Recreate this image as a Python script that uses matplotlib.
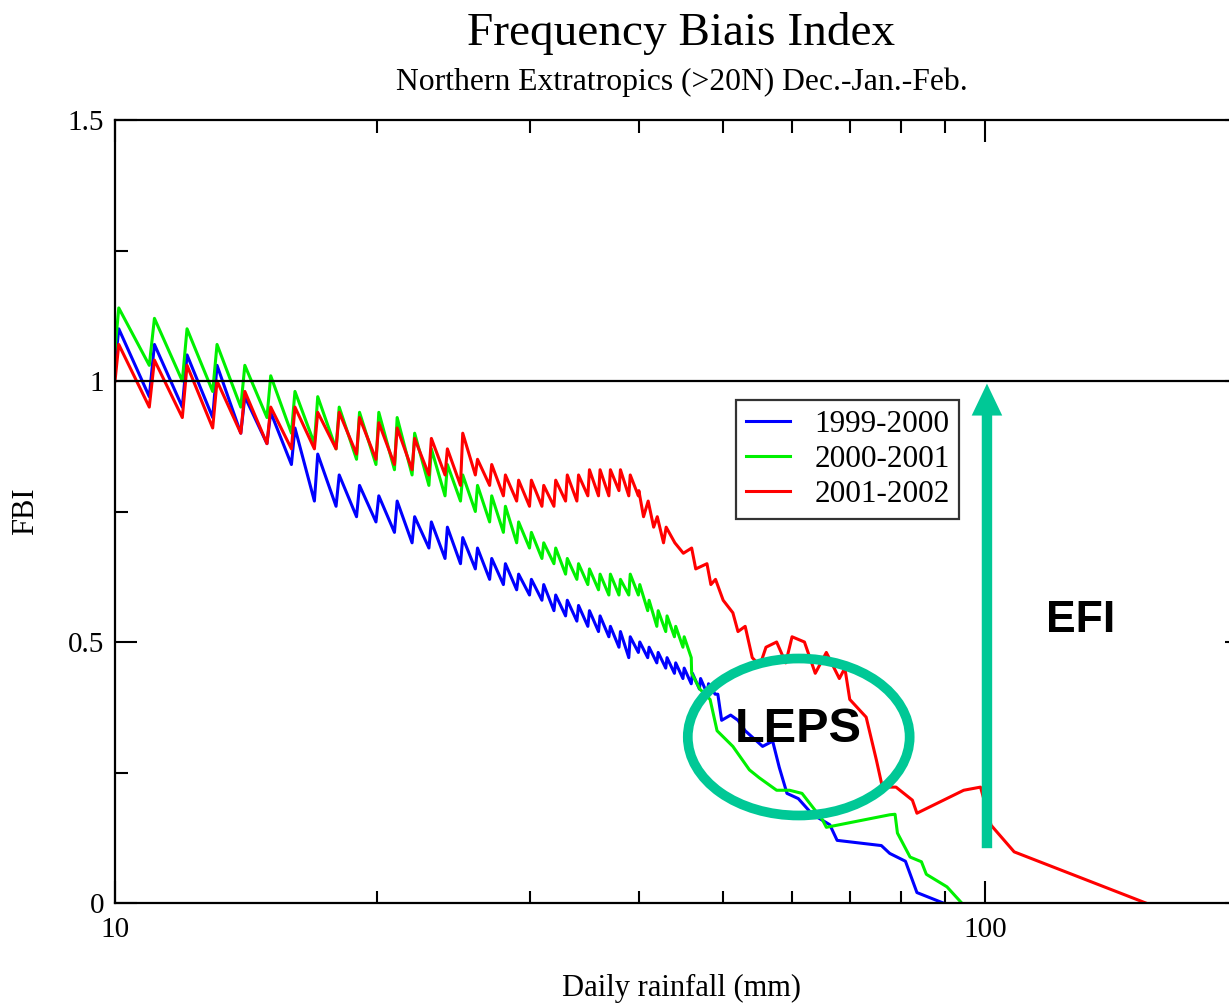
import numpy as np
import matplotlib
matplotlib.use("Agg")
import matplotlib.pyplot as plt
from matplotlib.patches import Ellipse, FancyArrowPatch

plt.rcParams['font.family'] = ['Liberation Serif', 'DejaVu Serif']

# integer rainfall thresholds where the saw-tooth jumps
blue_k = list(range(10, 49))
blue_start = 1.03
blue_peak = [1.10, 1.07, 1.05, 1.03, 0.97, 0.94, 0.91, 0.86, 0.82, 0.80,
             0.78, 0.77, 0.74, 0.73, 0.72, 0.70, 0.68, 0.66, 0.65, 0.63,
             0.62, 0.61, 0.59, 0.58, 0.57, 0.56, 0.55, 0.53, 0.52, 0.51,
             0.50, 0.49, 0.48, 0.47, 0.46, 0.45, 0.44, 0.43, 0.42]
blue_trough = [0.97, 0.95, 0.93, 0.90, 0.88, 0.84, 0.77, 0.76, 0.74, 0.73,
               0.71, 0.69, 0.68, 0.66, 0.65, 0.64, 0.62, 0.61, 0.60, 0.59,
               0.58, 0.56, 0.55, 0.54, 0.53, 0.52, 0.51, 0.49, 0.47, 0.48,
               0.47, 0.46, 0.45, 0.44, 0.43, 0.42, 0.41, 0.40, 0.40]
blue_tail_x = [49.3, 49.8, 51.0, 52.0, 53.0, 55.5, 57.0, 58.0, 59.2, 61.0,
               63.3, 66.3, 67.6, 76.0, 77.7, 81.0, 83.5, 89.5]
blue_tail_y = [0.40, 0.35, 0.36, 0.35, 0.33, 0.30, 0.31, 0.26, 0.21, 0.20,
               0.17, 0.15, 0.12, 0.11, 0.095, 0.08, 0.02, 0.0]

green_k = list(range(10, 46))
green_start = 1.06
green_peak = [1.14, 1.12, 1.10, 1.07, 1.03, 1.01, 0.98, 0.97, 0.95, 0.94,
              0.94, 0.93, 0.90, 0.87, 0.84, 0.82, 0.80, 0.78, 0.76, 0.73,
              0.71, 0.69, 0.68, 0.66, 0.65, 0.64, 0.63, 0.63, 0.62, 0.63,
              0.61, 0.58, 0.56, 0.55, 0.53, 0.51]
green_trough = [1.03, 1.00, 0.98, 0.95, 0.93, 0.90, 0.88, 0.87, 0.85, 0.84,
                0.83, 0.82, 0.80, 0.78, 0.77, 0.75, 0.73, 0.71, 0.69, 0.68,
                0.66, 0.65, 0.63, 0.62, 0.61, 0.60, 0.59, 0.59, 0.59, 0.59,
                0.56, 0.53, 0.52, 0.51, 0.49, 0.47]
green_tail_x = [46.0, 47.0, 48.3, 49.2, 51.3, 53.6, 55.0, 57.6, 59.6, 61.6,
                65.0, 65.7, 77.7, 78.8, 79.3, 82.0, 84.5, 85.6, 90.4, 94.0]
green_tail_y = [0.44, 0.41, 0.39, 0.33, 0.30, 0.255, 0.24, 0.216, 0.216, 0.21,
                0.16, 0.145, 0.169, 0.17, 0.134, 0.088, 0.079, 0.055, 0.031, 0.0]

red_k = list(range(10, 40))
red_start = 1.00
red_peak = [1.07, 1.04, 1.03, 1.00, 0.98, 0.95, 0.95, 0.94, 0.94, 0.93,
            0.92, 0.91, 0.89, 0.89, 0.87, 0.90, 0.85, 0.84, 0.82, 0.81,
            0.81, 0.80, 0.81, 0.82, 0.82, 0.83, 0.83, 0.83, 0.83, 0.82]
red_trough = [0.95, 0.93, 0.91, 0.90, 0.88, 0.87, 0.87, 0.87, 0.86, 0.85,
              0.84, 0.83, 0.82, 0.82, 0.80, 0.82, 0.80, 0.78, 0.77, 0.76,
              0.76, 0.76, 0.77, 0.77, 0.78, 0.78, 0.78, 0.79, 0.78, 0.78]
red_tail_x = [40.0, 40.5, 41.0, 41.6, 42.0, 42.7, 43.0, 44.0, 45.0, 46.0,
              46.5, 47.9, 48.4, 49.0, 50.0, 51.3, 52.0, 53.0, 54.0, 55.1,
              56.0, 57.6, 59.0, 60.0, 62.0, 63.8, 65.7, 68.0, 69.0, 69.9,
              73.0, 75.0, 76.2, 79.0, 82.5, 83.5, 94.5, 98.8, 101.6, 108.0,
              153.0]
red_tail_y = [0.79, 0.74, 0.77, 0.72, 0.74, 0.69, 0.72, 0.69, 0.67, 0.68,
              0.64, 0.65, 0.61, 0.62, 0.58, 0.556, 0.52, 0.53, 0.47, 0.455,
              0.49, 0.50, 0.46, 0.51, 0.50, 0.44, 0.48, 0.43, 0.45, 0.39,
              0.356, 0.274, 0.222, 0.222, 0.197, 0.172, 0.216, 0.222, 0.149,
              0.098, 0.0]

labels = ['1999-2000', '2000-2001', '2001-2002']
colors = ['#0000ff', '#00f000', '#ff0000']


def build(k, start, peak, trough, tail_x, tail_y):
    x = [k[0]]
    y = [start]
    for kk, p, t in zip(k, peak, trough):
        x += [kk + 0.1, kk + 0.95]
        y += [p, t]
    return np.array(x + tail_x), np.array(y + tail_y)


series = [
    build(blue_k, blue_start, blue_peak, blue_trough, blue_tail_x, blue_tail_y),
    build(green_k, green_start, green_peak, green_trough, green_tail_x, green_tail_y),
    build(red_k, red_start, red_peak, red_trough, red_tail_x, red_tail_y),
]

fig = plt.figure(figsize=(12.29, 10.08), dpi=100)
# axes runs a bit past the right edge of the picture (to 200 mm)
ax = fig.add_axes([115 / 1229, 105 / 1008, 1132 / 1229, 783 / 1008])

for (x, y), lab, c in zip(series, labels, colors):
    ax.plot(x, y, color=c, lw=2.2, label=lab)

ax.axhline(1.0, color='black', lw=1.6, zorder=3)

ax.set_xscale('log')
ax.set_xlim(10, 200)
ax.set_ylim(0, 1.5)
ax.set_yticks([0, 0.5, 1, 1.5])
ax.set_yticklabels(['0', '0.5', '1', '1.5'])
ax.set_yticks([0.25, 0.75, 1.25], minor=True)
ax.set_xticks([10, 100])
ax.set_xticklabels(['10', '100'])
ax.xaxis.set_minor_formatter(matplotlib.ticker.NullFormatter())
ax.tick_params(which='both', direction='in', top=True, right=True,
               width=1.5, labelsize=21)
ax.tick_params(which='major', length=16)
ax.tick_params(which='minor', length=9)
ax.tick_params(axis='x', pad=10)
ax.tick_params(axis='y', pad=8)
for s in ax.spines.values():
    s.set_linewidth(1.6)

ax.set_xlabel('Daily rainfall (mm)', fontsize=22, labelpad=22)
ax.set_ylabel('FBI', fontsize=22, labelpad=20)

leg = ax.legend(loc='upper left', bbox_to_anchor=(0.549, 0.642),
                borderaxespad=0, fontsize=22.5, frameon=True, fancybox=False,
                edgecolor='black', handlelength=1.4, handletextpad=0.8,
                labelspacing=0.2, borderpad=0.3)
leg.get_frame().set_linewidth(1.6)
for h in leg.get_lines():
    h.set_linewidth(2.2)

fig.text(681 / 1229, 1 - 45 / 1008, 'Frequency Biais Index', fontsize=34,
         ha='center', va='baseline')
fig.text(682 / 1229, 1 - 90 / 1008, 'Northern Extratropics (>20N) Dec.-Jan.-Feb.',
         fontsize=22.8, ha='center', va='baseline')

teal = '#00c896'
ell = Ellipse((0.604, 0.212), 0.196, 0.2005, transform=ax.transAxes,
              fill=False, edgecolor=teal, lw=7, zorder=5)
ax.add_patch(ell)
ax.text(0.604, 0.222, 'LEPS', transform=ax.transAxes, fontsize=35,
        fontweight='bold', family='Liberation Sans', ha='center', va='center',
        zorder=6)

arrow = FancyArrowPatch((100.5, 0.105), (100.5, 0.995),
                        arrowstyle='simple,tail_width=0.75,head_width=2.2,head_length=2.3',
                        mutation_scale=10, color=teal, lw=0, zorder=6,
                        shrinkA=0, shrinkB=0)
ax.add_patch(arrow)
ax.text(0.853, 0.361, 'EFI', transform=ax.transAxes, fontsize=32,
        fontweight='bold', family='Liberation Sans', ha='center', va='center',
        zorder=6)

fig.savefig('out.png', dpi=100)
